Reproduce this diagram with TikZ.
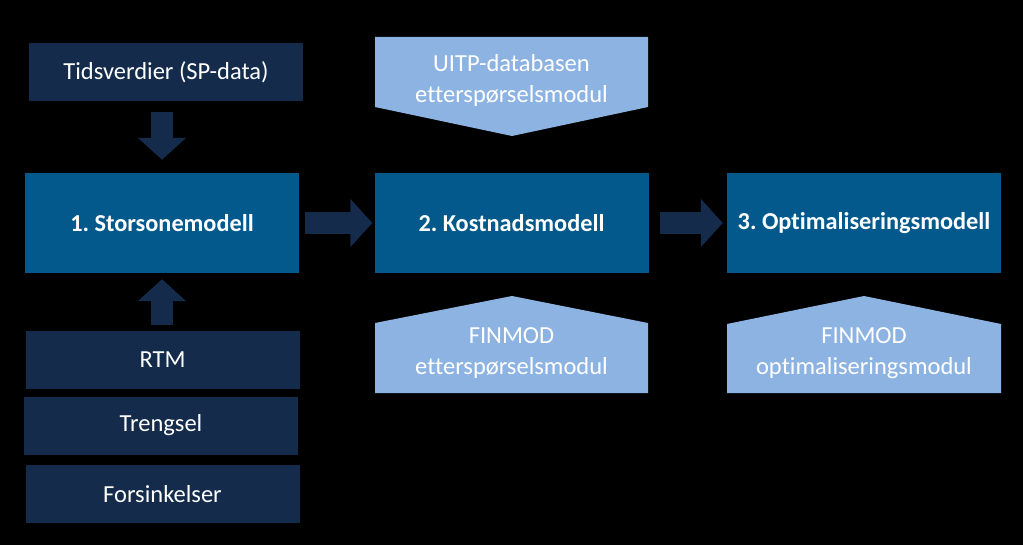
\documentclass[tikz,border=0pt]{standalone}
\usepackage{fontspec}
\setmainfont[Ligatures={NoCommon}]{Carlito}
\usetikzlibrary{arrows.meta}
\definecolor{navy}{HTML}{142B4B}
\definecolor{midblue}{HTML}{03598B}
\definecolor{lightblue}{HTML}{8DB3E2}
\tikzset{
  inbox/.style={fill=navy, text=white, minimum width=274pt, minimum height=58pt, inner sep=0pt, font=\fontsize{24.5}{29}\selectfont},
  modelbox/.style={fill=midblue, text=white, minimum width=274pt, minimum height=100pt, inner sep=0pt, font=\fontsize{24.3}{29}\selectfont\bfseries},
  lighttext/.style={text=white, align=center, inner sep=0pt, font=\fontsize{24.5}{31}\selectfont},
  blockarrow/.style={draw=navy, line width=22pt, -{Triangle[width=47pt,length=22pt]}, navy},
}
\begin{document}
\frenchspacing
\begin{tikzpicture}[x=1pt,y=-1pt]
\useasboundingbox[fill=black] (0,0) rectangle (1023,545);
% input boxes
\node[inbox] (tids) at (166,72) {Tidsverdier (SP-data)};
\node[inbox] (rtm) at (162.5,360) {RTM};
\node[inbox] (treng) at (161,425.5) {Trengsel};
\node[inbox] (fors) at (162.5,494) {Forsinkelser};
% model boxes
\node[modelbox] (stor) at (162,223) {1. Storsonemodell};
\node[modelbox] (kost) at (511.5,223) {2. Kostnadsmodell};
\node[modelbox] (opt) at (864,223) {3. Optimaliseringsmodell};
% pentagons
\fill[lightblue] (375,37) -- (648,37) -- (648,107) -- (512,136) -- (375,107) -- cycle;
\node[lighttext] (uitp) at (511.5,80) {UITP-databasen\\etterspørselsmodul};
\fill[lightblue] (375,393) -- (648,393) -- (648,323) -- (512,296) -- (375,323) -- cycle;
\node[lighttext] (finmod1) at (511.5,353) {FINMOD\\etterspørselsmodul};
\fill[lightblue] (727,393) -- (1001,393) -- (1001,324) -- (864,296) -- (727,324) -- cycle;
\node[lighttext] (finmod2) at (864,353) {FINMOD\\optimaliseringsmodul};
% block arrows
\draw[blockarrow] ([yshift=-11pt]stor.north |- tids.south) -- ([yshift=13pt]stor.north);
\draw[blockarrow] ([yshift=6pt]stor.south |- rtm.north) -- ([yshift=-6pt]stor.south);
\draw[blockarrow] ([xshift=6pt]stor.east) -- ([xshift=-2pt]kost.west);
\draw[blockarrow] ([xshift=11pt]kost.east) -- ([xshift=-4pt]opt.west);
\end{tikzpicture}
\end{document}
